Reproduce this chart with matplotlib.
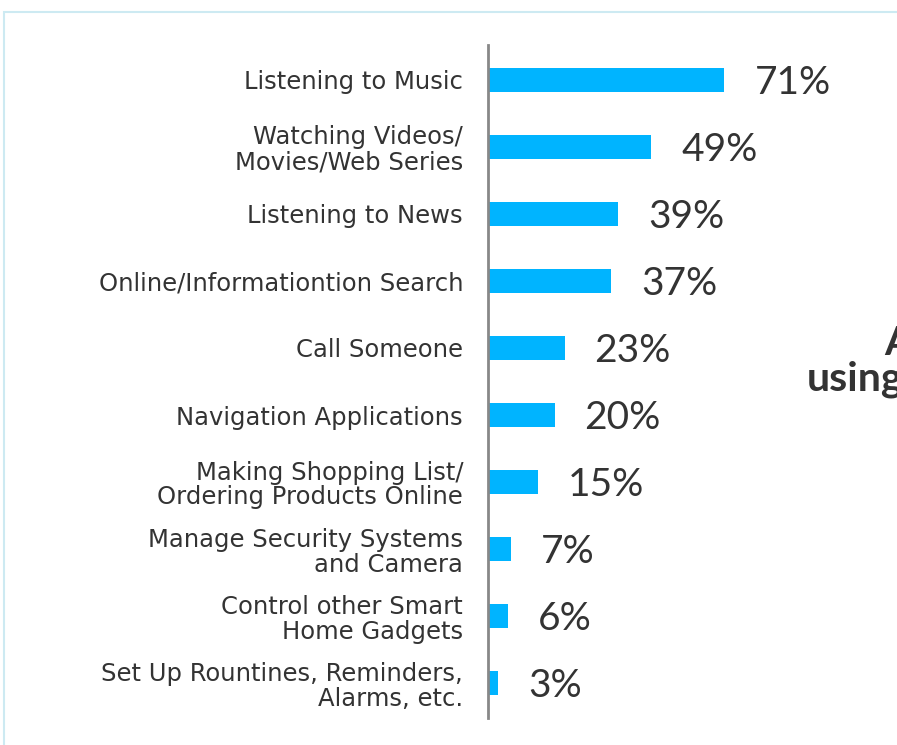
import matplotlib.pyplot as plt
import matplotlib.patches as mpatches

categories = [
    "Listening to Music",
    "Watching Videos/\nMovies/Web Series",
    "Listening to News",
    "Online/Informationtion Search",
    "Call Someone",
    "Navigation Applications",
    "Making Shopping List/\nOrdering Products Online",
    "Manage Security Systems\nand Camera",
    "Control other Smart\nHome Gadgets",
    "Set Up Rountines, Reminders,\nAlarms, etc.",
]
values = [71, 49, 39, 37, 23, 20, 15, 7, 6, 3]

plt.rcParams['font.family'] = ['Lato', 'DejaVu Sans']

W, H = 897, 745
fig = plt.figure(figsize=(W / 100, H / 100), dpi=100)

# light frame around the card (open at bottom and right)
fig.patches.append(mpatches.Rectangle((4 / W, -0.2), 1.2, 1.2 - 12 / H, transform=fig.transFigure,
                                      fill=False, edgecolor='#cdeaf2', linewidth=1.5))

# axes: spine at x=488, from y=45 to y=718
ax = fig.add_axes([488 / W, 1 - 718 / H, (W - 488) / W, (718 - 45) / H])
n = len(categories)
ypos = list(range(n))
ax.barh(ypos, values, height=0.36, color='#00b4ff', align='center')
ax.set_ylim(n - 0.48, -0.52)
ax.set_xlim(0, (W - 488) / 3.33)

for y, v in zip(ypos, values):
    ax.text(v + 9, y + 0.04, f"{v}%", va='center', ha='left', fontsize=28, color='#333333')

ax.set_yticks(ypos)
ax.set_yticklabels(categories, fontsize=17.5, color='#333333', linespacing=1.05,
                   family=['DejaVu Sans'])
ax.tick_params(axis='y', length=0, pad=18)
ax.set_xticks([])
for s in ['top', 'right', 'bottom']:
    ax.spines[s].set_visible(False)
ax.spines['left'].set_color('#888888')
ax.spines['left'].set_linewidth(2)

# title cut off at right edge
fig.text(884 / W, 1 - 355 / H, "A", fontsize=29, fontweight='bold', color='#333333', va='baseline')
fig.text(807 / W, 1 - 390 / H, "using", fontsize=29.5, fontweight='bold', color='#333333', va='baseline')

fig.savefig('out.png', dpi=100)
